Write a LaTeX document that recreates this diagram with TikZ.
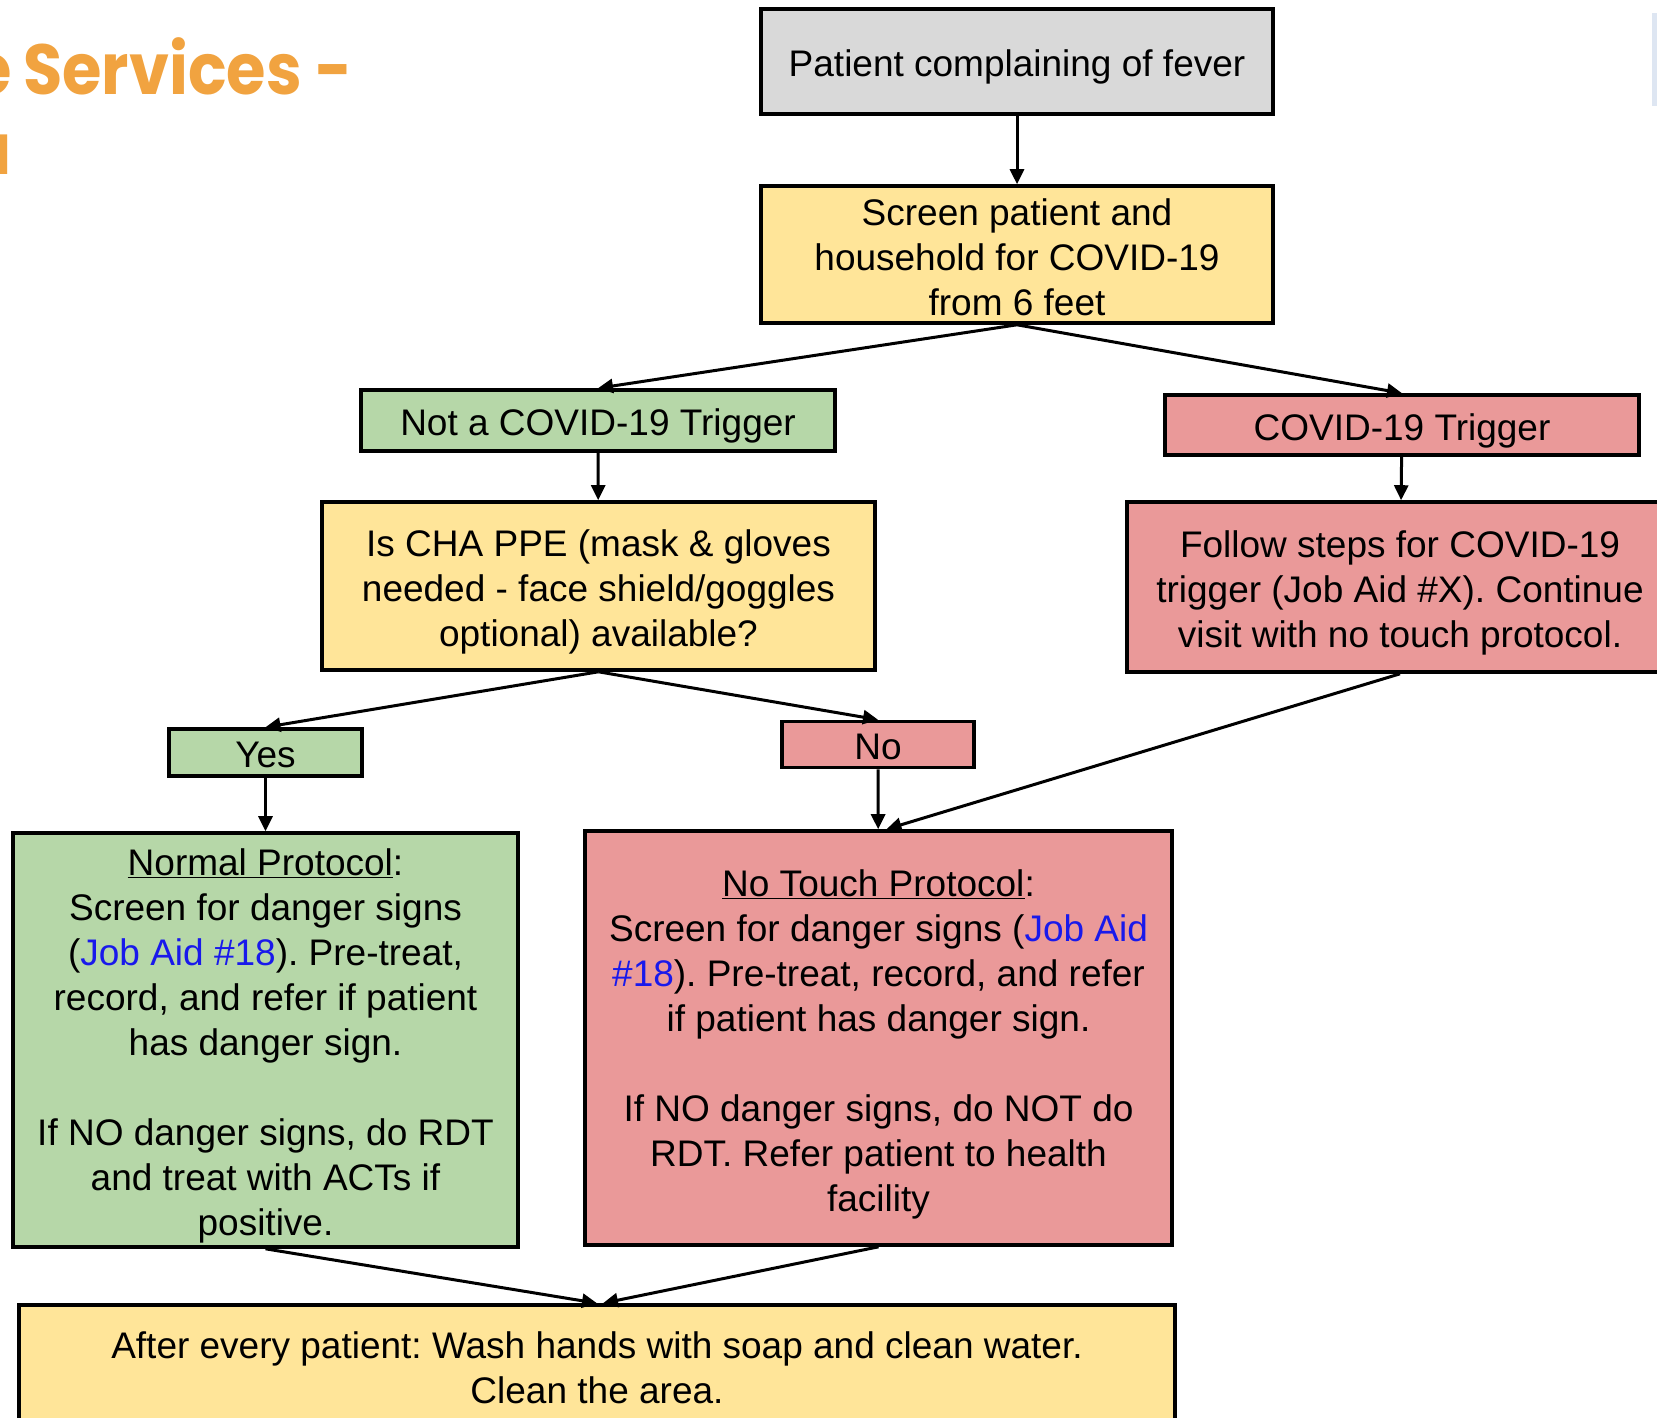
\documentclass[tikz,border=0pt]{standalone}
\usepackage{fontspec}
\setmainfont{Liberation Sans}
\newfontfamily\titlefont{Poppins}[FakeStretch=0.9]
\usetikzlibrary{arrows.meta}
\frenchspacing
\definecolor{boxgrey}{RGB}{217,217,217}
\definecolor{boxyellow}{RGB}{255,229,153}
\definecolor{boxgreen}{RGB}{182,215,168}
\definecolor{boxred}{RGB}{234,153,153}
\definecolor{linkblue}{RGB}{25,25,235}
\definecolor{titleorange}{RGB}{241,163,64}
\definecolor{stripblue}{RGB}{222,230,242}
\newcommand{\jobaid}[1]{\textcolor{linkblue}{#1}}
\newcommand{\firstline}{\rule{0pt}{39pt}}
\tikzset{
    stepnode/.style={rectangle, draw=black, line width=3.6pt, inner sep=0, align=center, font=\fontsize{37}{45}\selectfont,
        execute at begin node={\rule[-8pt]{0pt}{46pt}}},
    greybox/.style={stepnode, fill=boxgrey},
    yellowbox/.style={stepnode, fill=boxyellow},
    greenbox/.style={stepnode, fill=boxgreen},
    redbox/.style={stepnode, fill=boxred},
    flow/.style={line width=3pt, -{Triangle[length=15pt, width=14pt]}},
    titletext/.style={inner sep=0, text=titleorange, font=\titlefont\bfseries\fontsize{71}{80}\selectfont}
}
\begin{document}
\begin{tikzpicture}[x=1pt, y=-1pt]
    \useasboundingbox (0,0) rectangle (1657,1418);
    % slide title, cut at the left edge
    \node[titletext, anchor=base west] (title) at (23,95) {Services -};
    \node[titletext, anchor=base east] (titlecut) at (12,95) {e};
    \node[titletext, anchor=base east] (titlecuttwo) at (12,175) {u};
    \fill[stripblue] (1652,13) rectangle (1657,106);

    % boxes
    \node[greybox, minimum width=512pt, minimum height=105pt] (fever) at (1017,61.5) {Patient complaining of fever};
    \node[yellowbox, minimum width=512pt, minimum height=135pt] (screen) at (1017,254.5)
        {\firstline Screen patient and\\household for COVID-19\\from 6 feet};
    \node[greenbox, minimum width=474pt, minimum height=61pt] (nottrig) at (598,420.5) {Not a COVID-19 Trigger};
    \node[redbox, minimum width=474pt, minimum height=60pt] (trig) at (1402,425) {COVID-19 Trigger};
    \node[yellowbox, minimum width=553pt, minimum height=168pt] (ppe) at (598.5,586)
        {\firstline Is CHA PPE (mask \& gloves\\needed - face shield/goggles\\optional) available?};
    \node[redbox, minimum width=546pt, minimum height=170pt] (follow) at (1400,587)
        {\firstline Follow steps for COVID-19\\trigger (Job Aid \#X). Continue\\visit with no touch protocol.};
    \node[greenbox, minimum width=193pt, minimum height=47pt] (yes) at (265.5,752.5) {Yes};
    \node[redbox, minimum width=192pt, minimum height=45pt] (no) at (878,744.5) {No};
    \node[greenbox, minimum width=505pt, minimum height=414pt] (normal) at (265.5,1040)
        {\firstline\underline{Normal Protocol}:\\Screen for danger signs\\(\jobaid{Job Aid \#18}). Pre-treat,\\record, and refer if patient\\has danger sign.\\[45pt]If NO danger signs, do RDT\\and treat with ACTs if\\positive.};
    \node[redbox, minimum width=587pt, minimum height=414pt] (notouch) at (878.5,1038)
        {\firstline\underline{No Touch Protocol}:\\Screen for danger signs (\jobaid{Job Aid}\\\jobaid{\#18}). Pre-treat, record, and refer\\if patient has danger sign.\\[45pt]If NO danger signs, do NOT do\\RDT. Refer patient to health\\facility};
    \node[yellowbox, minimum width=1156pt, minimum height=120pt] (after) at (597,1365)
        {\firstline After every patient: Wash hands with soap and clean water.\\Clean the area.};

    % connectors
    \draw[flow] (fever) -- (screen);
    \draw[flow] (screen.south) -- (nottrig.north);
    \draw[flow] (screen.south) -- (trig.north);
    \draw[flow] (nottrig) -- (ppe);
    \draw[flow] (trig) -- (follow);
    \draw[flow] (ppe.south) -- (yes.north);
    \draw[flow] (ppe.south) -- (no.north);
    \draw[flow] (yes) -- (normal);
    \draw[flow] (no) -- (notouch);
    \draw[flow] (follow.south) -- ([xshift=8pt]notouch.north);
    \draw[flow] (normal.south) -- (after.north);
    \draw[flow] (notouch.south) -- ([xshift=6pt]after.north);
\end{tikzpicture}
\end{document}
